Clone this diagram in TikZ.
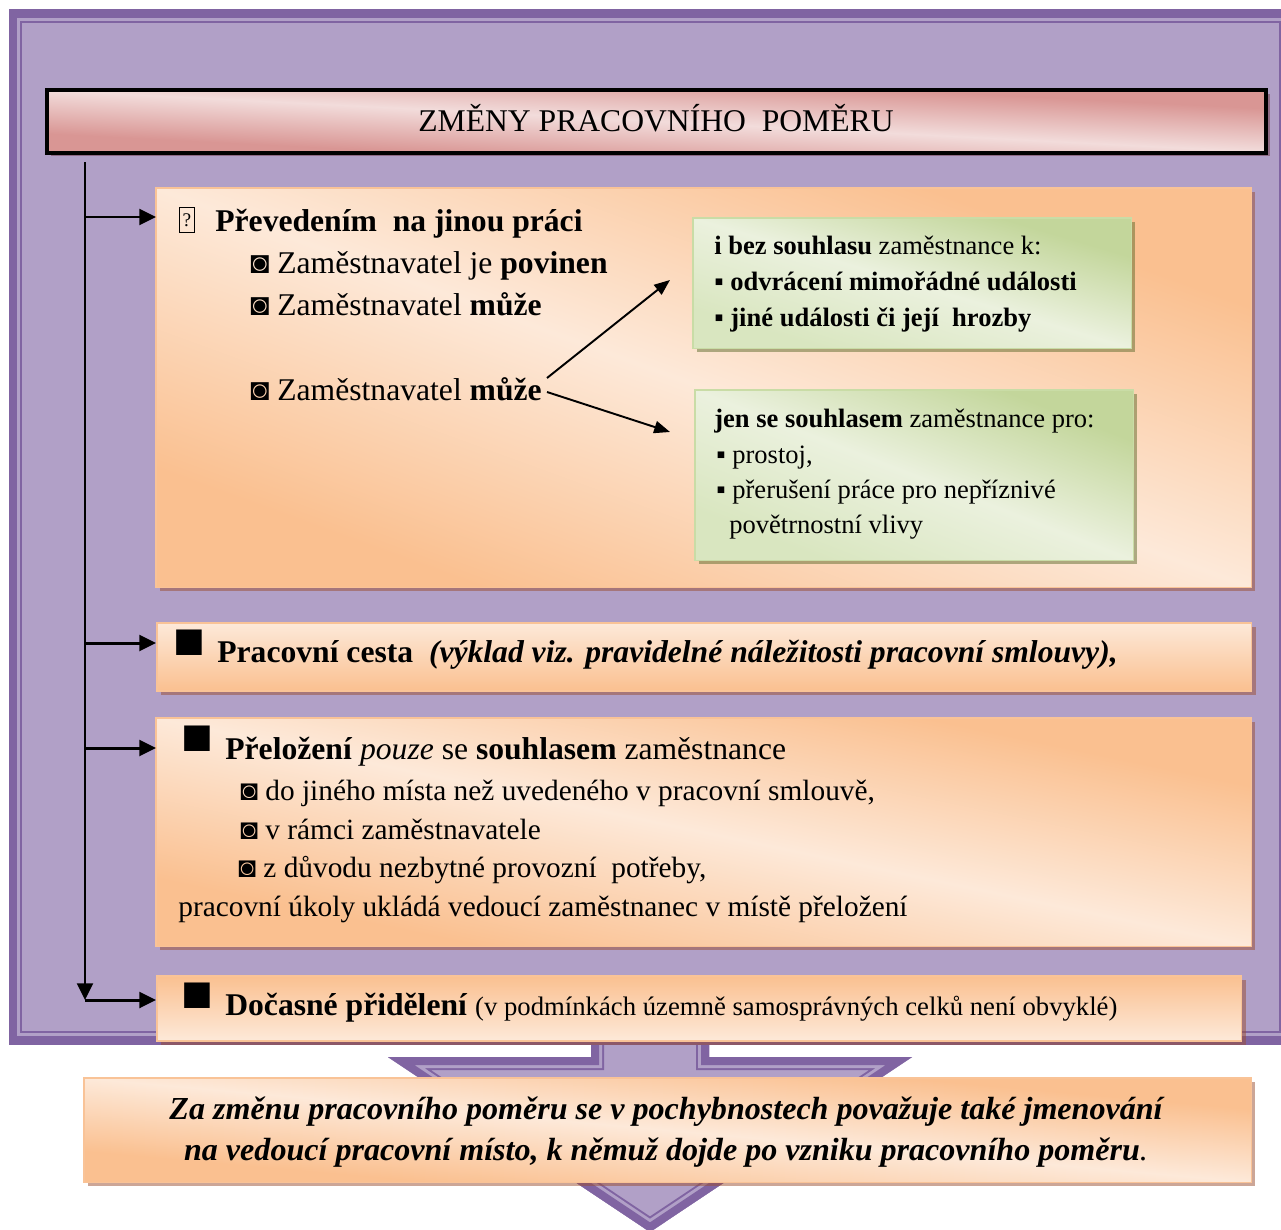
\documentclass[tikz,border=0pt]{standalone}
\usepackage{fontspec}
\setmainfont{Liberation Serif}
\usepackage{tikz}
\usetikzlibrary{arrows.meta, positioning, calc, shadows}

\definecolor{frameD}{HTML}{8064A2}
\definecolor{frameL}{HTML}{B1A0C7}
\definecolor{orL}{HTML}{FDE9D9}
\definecolor{orD}{HTML}{FAC090}
\definecolor{orEdge}{HTML}{F9C397}
\definecolor{boxShade}{HTML}{9A4E30}
\definecolor{grL}{HTML}{EBF1DE}
\definecolor{grM}{HTML}{D9E6C0}
\definecolor{grD}{HTML}{C3D69B}
\definecolor{grEdge}{HTML}{C9DCA6}
\definecolor{grShade}{HTML}{5F6B2E}
\definecolor{pinkL}{HTML}{F2DCDB}
\definecolor{pinkD}{HTML}{D99694}
\definecolor{titleShade}{HTML}{8E6A84}

% lilac shape with a triple border drawn inside its outline
\newcommand{\lilacshape}[1]{%
  \fill[frameL] #1;
  \begin{scope}
    \clip #1;
    \draw[frameD, line width=0.52cm] #1;
    \draw[frameL, line width=0.44cm] #1;
    \draw[frameD, line width=0.32cm] #1;
  \end{scope}}

% diagonal gradient stretched over a box node: #2 x #3 px, colours bottom left / centre / top right, edge
\newcommand{\diagpaint}[7]{%
  \begin{scope}[transform canvas={shift={(#1.north west)}, xscale=#2/100, yscale=#3/100}]
    \shade[left color=#4, right color=#6, middle color=#5, shading angle=135] (0,0) rectangle (100,100);
  \end{scope}
  \draw[#7] (#1.north west) rectangle (#1.south east);}

\begin{document}
\begin{tikzpicture}[x=0.02cm, y=-0.02cm,
  panel/.style={anchor=north west, inner sep=0pt,
    general shadow={fill=boxShade, opacity=0.5, shadow xshift=2.3pt, shadow yshift=-2.3pt}},
  greenpanel/.style={anchor=north west, inner sep=0pt,
    general shadow={fill=grShade, opacity=0.5, shadow xshift=2.3pt, shadow yshift=-2.3pt}},
  txt/.style={anchor=base west, inner sep=0pt, font=\fontsize{18}{22}\selectfont},
  sub/.style={anchor=base west, inner sep=0pt, font=\fontsize{16.7}{20}\selectfont},
  gtxt/.style={anchor=base west, inner sep=0pt, font=\fontsize{15.1}{18}\selectfont},
  bigsq/.style={inner sep=0pt, font=\fontsize{30}{30}\selectfont},
  arr/.style={-{Triangle[length=9.5pt,width=9pt]}, line width=1.7pt},
  forkarr/.style={-{Triangle[length=9pt,width=7pt]}, line width=1.1pt}]

  \useasboundingbox (0,0) rectangle (1281,1230);

  % big arrow behind the frame
  \lilacshape{(591,990) -- (591,1057) -- (388,1057) -- (650,1232) -- (912,1057) -- (709,1057) -- (709,990) -- cycle}

  % frame
  \lilacshape{(9,10) rectangle (1292,1044)}

  % title
  \node[anchor=north west, inner sep=0pt, minimum width=24.38cm, minimum height=1.24cm,
        general shadow={fill=titleShade, shadow xshift=2.3pt, shadow yshift=-2.3pt}] (title) at (47,90) {};
  \diagpaint{title}{1219}{62}{pinkD}{pinkL}{pinkD}{black, line width=2.3pt}
  \node[anchor=base, inner sep=0pt, font=\fontsize{18}{22}\selectfont] (titletext) at (656,132) {ZMĚNY PRACOVNÍHO\ \ POMĚRU};

  % boxes
  \node[panel, minimum width=21.9cm, minimum height=7.98cm] (prevod) at (156,188) {};
  \diagpaint{prevod}{1095}{399}{orD}{orL}{orD}{orEdge, line width=0.9pt}
  \node[greenpanel, minimum width=8.76cm, minimum height=2.6cm] (bez) at (693,218) {};
  \diagpaint{bez}{438}{130}{grM}{grL}{grD}{grEdge, line width=0.9pt}
  \node[greenpanel, minimum width=8.76cm, minimum height=3.4cm] (jen) at (695,390) {};
  \diagpaint{jen}{438}{170}{grM}{grL}{grD}{grEdge, line width=0.9pt}
  \node[panel, minimum width=21.9cm, minimum height=1.36cm, draw=orEdge, line width=0.9pt,
        top color=orL, bottom color=orD] (cesta) at (156,622) {};
  \node[panel, minimum width=21.9cm, minimum height=4.56cm] (prelozeni) at (156,718) {};
  \diagpaint{prelozeni}{1095}{228}{orD}{orL}{orD}{orEdge, line width=0.9pt}
  \node[panel, minimum width=21.7cm, minimum height=1.3cm, draw=orEdge, line width=0.9pt,
        top color=orD, bottom color=orL] (prideleni) at (156,975) {};
  \node[panel, minimum width=23.34cm, minimum height=2.08cm] (pozn) at (84,1078) {};
  \diagpaint{pozn}{1167}{104}{orD}{orL}{orD}{orEdge, line width=0.9pt}

  % spine and arrows
  \coordinate (sTop) at (85,162);
  \coordinate (sBot) at (85,1000);
  \coordinate (s1) at (85,217);
  \coordinate (s2) at (85,643);
  \coordinate (s3) at (85,748);
  \draw[arr] (sTop) -- (sBot);
  \draw[arr] (s1) -- (s1 -| prevod.west);
  \draw[arr] (s2) -- (s2 -| cesta.west);
  \draw[arr] (s3) -- (s3 -| prelozeni.west);
  \draw[arr] (sBot) -- (sBot -| prideleni.west);

  % Prevedeni
  \node[draw, line width=0.5pt, inner sep=0pt, minimum width=8.5pt, minimum height=14pt,
        font=\fontsize{11}{11}\selectfont] (qbox) at (187,220) {?};
  \node[txt, font=\fontsize{18}{22}\selectfont\bfseries] (t11) at (215,231) {Převedením\ \ na jinou práci};
  \node[txt] (t12) at (250,273) {◙ Zaměstnavatel je \textbf{povinen}};
  \node[txt] (t13) at (250,315) {◙ Zaměstnavatel \textbf{může}};
  \node[txt] (t14) at (250,400) {◙ Zaměstnavatel \textbf{může}};

  \coordinate (upTip) at (670,280);
  \coordinate (dnTip) at (670,432);
  \draw[forkarr] ($(t14.base east)+(5,-22)$) -- (upTip);
  \draw[forkarr] ($(t14.base east)+(5,-8)$) -- (dnTip);

  \node[gtxt] (b1) at (714,254) {\textbf{i bez souhlasu} zaměstnance k:};
  \node[gtxt, font=\fontsize{15.1}{18}\selectfont\bfseries] (b2) at (714,290) {▪ odvrácení mimořádné události};
  \node[gtxt, font=\fontsize{15.1}{18}\selectfont\bfseries] (b3) at (714,326) {▪ jiné události či její\ \ hrozby};

  \node[gtxt] (j1) at (714,427) {\textbf{jen se souhlasem} zaměstnance pro:};
  \node[gtxt] (j2) at (716,463) {▪ prostoj,};
  \node[gtxt] (j3) at (716,498) {▪ přerušení práce pro nepříznivé};
  \node[gtxt] (j4) at (729,533) {povětrnostní vlivy};

  % Pracovni cesta
  \node[bigsq] (q2) at (189,644) {■};
  \node[txt] (t21) at (217,662) {\textbf{Pracovní cesta}\ \ \textbf{\textit{(výklad viz. pravidelné náležitosti pracovní smlouvy),}}};

  % Prelozeni
  \node[bigsq] (q3) at (197,740) {■};
  \node[txt] (t31) at (225,759) {\textbf{Přeložení} \textit{pouze} se \textbf{souhlasem} zaměstnance};
  \node[sub] (t32) at (240,800) {◙ do jiného místa než uvedeného v pracovní smlouvě,};
  \node[sub] (t33) at (240,839) {◙ v rámci zaměstnavatele};
  \node[sub] (t34) at (238,877) {◙ z důvodu nezbytné provozní\ \ potřeby,};
  \node[sub] (t35) at (178,916) {pracovní úkoly ukládá vedoucí zaměstnanec v místě přeložení};

  % Docasne prideleni
  \node[bigsq] (q4) at (197,997) {■};
  \node[txt] (t41) at (225,1015) {\textbf{Dočasné přidělení} {\fontsize{15.2}{18}\selectfont (v podmínkách územně samosprávných celků není obvyklé)}};

  % note below
  \node[txt, anchor=base, font=\fontsize{18.25}{22}\selectfont\bfseries\itshape] (n1) at (666,1119)
    {Za změnu pracovního poměru se v pochybnostech považuje také jmenování};
  \node[txt, anchor=base, font=\fontsize{18.25}{22}\selectfont\bfseries\itshape] (n2) at (666,1160)
    {na vedoucí pracovní místo, k němuž dojde po vzniku pracovního poměru\textmd{.}};
\end{tikzpicture}
\end{document}
